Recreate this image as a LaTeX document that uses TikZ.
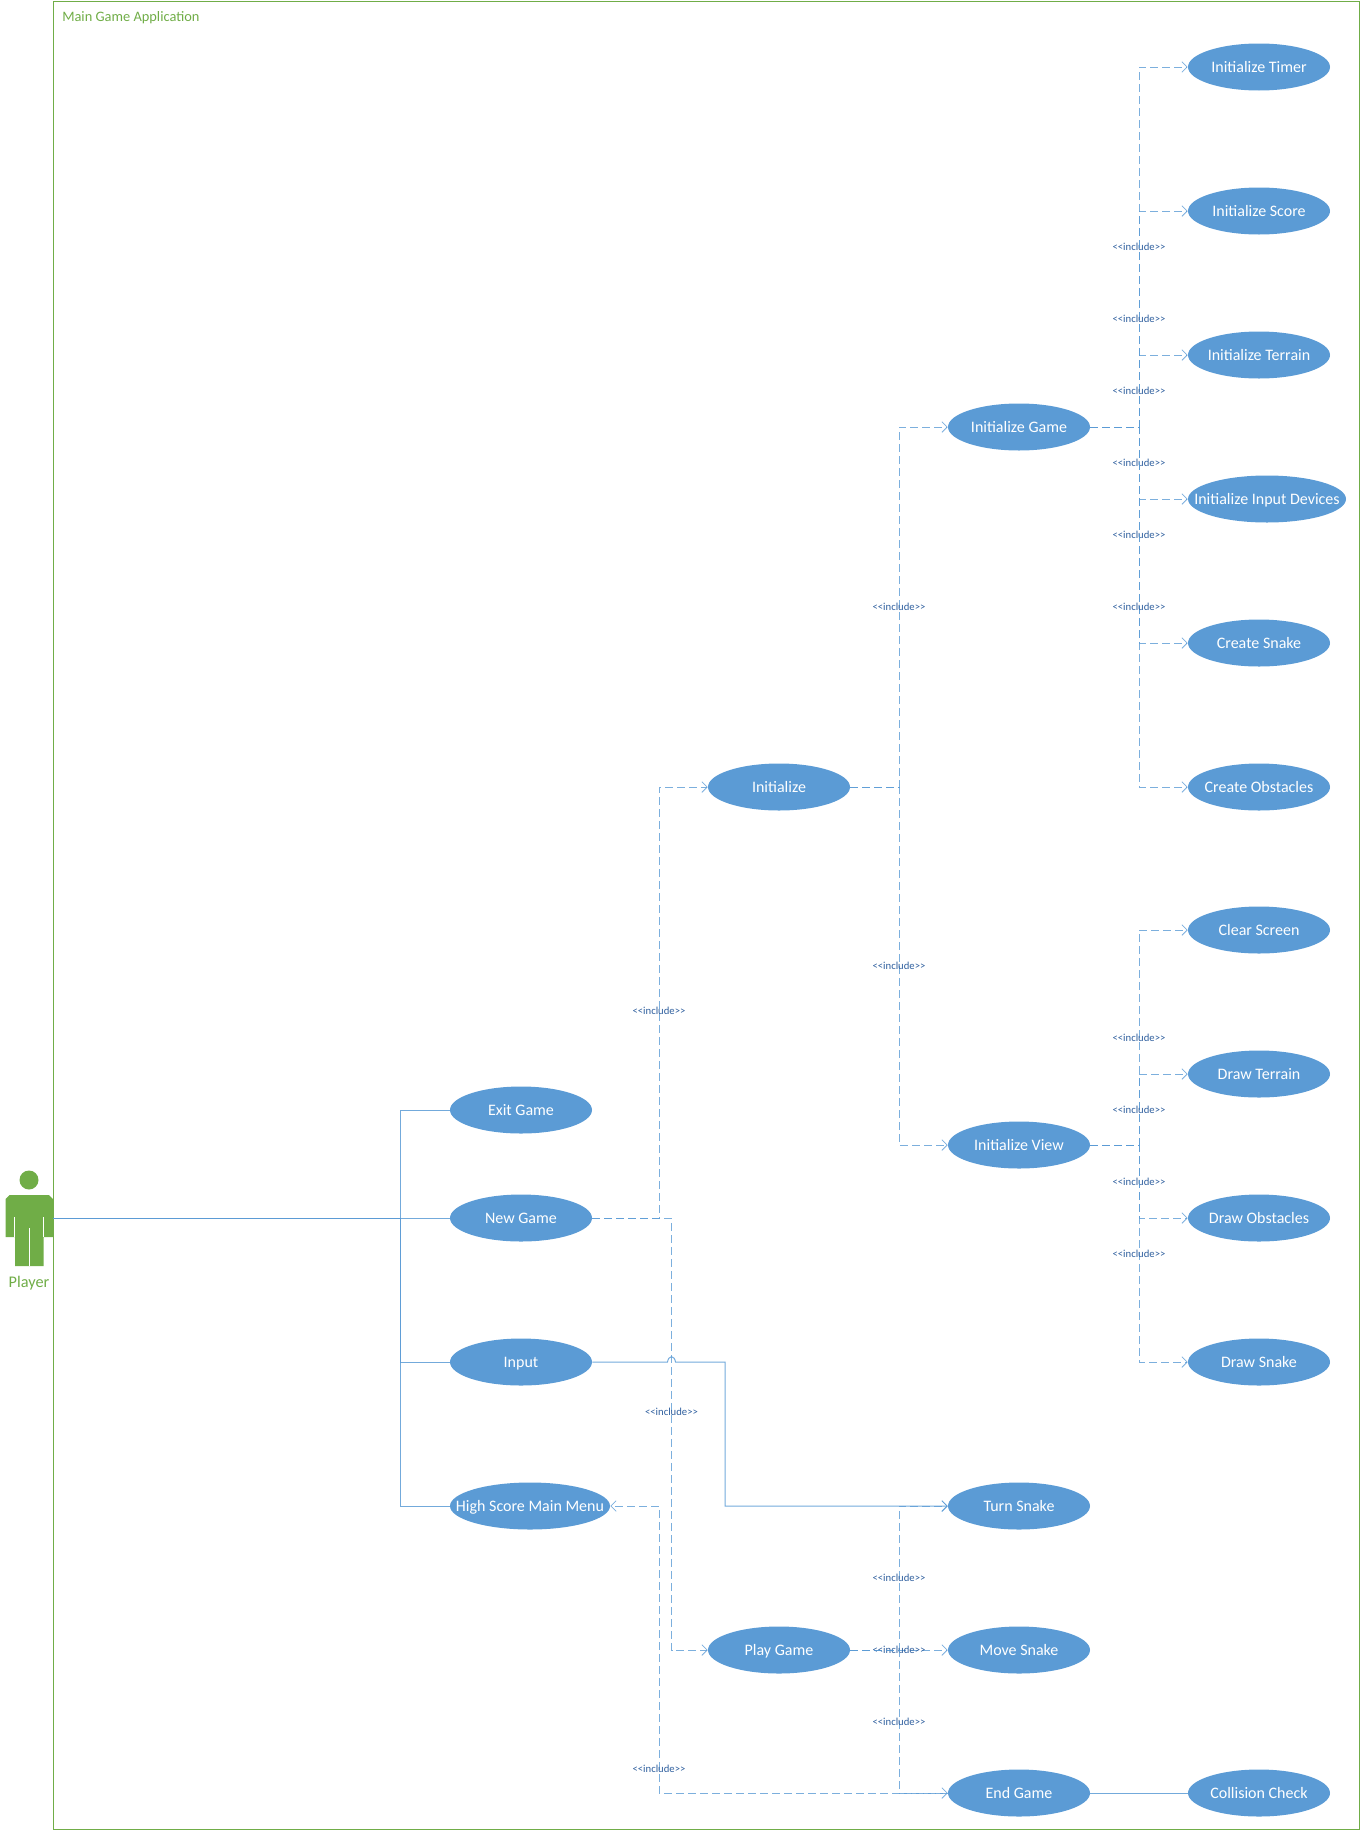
\documentclass[tikz,border=0pt]{standalone}
\usepackage[table]{xcolor}
\usepackage{tikz}
\usepackage{fontspec}
\setmainfont{Carlito}
\usetikzlibrary{arrows.meta,shapes.geometric}
\definecolor{caseblue}{HTML}{5B9BD5}
\definecolor{actorgreen}{HTML}{70AD47}
\definecolor{labelblue}{HTML}{2F5F9E}
\newcommand{\incl}{<{}<include>{}>}
\tikzset{
	usecase/.style={ellipse, fill=caseblue, text=white, font=\fontsize{12}{14}\selectfont, text height=10pt, text depth=2.4pt, minimum width=106.5pt, minimum height=35.25pt, inner xsep=-50pt, inner ysep=0pt},
	solidlink/.style={draw=caseblue, line width=0.75pt, draw opacity=0.85},
	dashlink/.style={draw=caseblue, line width=0.75pt, draw opacity=0.8, dash pattern=on 6pt off 3pt, -{Straight Barb[length=4pt,width=8pt,line width=0.6pt]}},
	inclabel/.style={text=labelblue, font=\fontsize{8}{9}\selectfont, inner sep=0pt},
}
\begin{document}
\begin{tikzpicture}[x=0.75pt, y=-0.75pt]
		\useasboundingbox (0,0) rectangle (1360,1831);
		\draw[draw=actorgreen, line width=0.75pt] (53,1.5) rectangle (1359,1829);
		\node[text=actorgreen, anchor=west, inner sep=0pt, font=\fontsize{10.8}{13}\selectfont] (appname) at (62,17.8) {Main Game Application};
		\fill[actorgreen] (29,1180) circle (9.5);
		\fill[actorgreen] (5.5,1199) -- (9.5,1195) -- (49,1195) -- (53,1199) -- (53,1237) -- (43.5,1237) -- (43.5,1266) -- (15,1266) -- (15,1237) -- (5.5,1237) -- cycle;
		\draw[draw=white, line width=0.6pt] (14.5,1217) -- (14.5,1237);
		\draw[draw=white, line width=0.6pt] (43.5,1217) -- (43.5,1237);
		\draw[draw=white, line width=0.6pt] (29,1228) -- (29,1266);
		\node[text=actorgreen, font=\fontsize{12.2}{14}\selectfont] (playername) at (29,1283) {Player};
		\coordinate (player) at (53,1218);
		\coordinate (playerbus) at (400.5,1218);
		\coordinate (newbusup) at (659,1218);
		\coordinate (newbusdown) at (671.5,1218);
		\coordinate (initbus) at (899,787);
		\coordinate (gamebus) at (1139,427);
		\coordinate (viewbus) at (1139,1145);
		\coordinate (playbus) at (899,1650);
		\coordinate (menubus) at (659,1793);
		\coordinate (hopleft) at (667.5,1362);
		\coordinate (hopright) at (675.5,1362);
		\coordinate (inputbus) at (725,1362);
		\node[usecase] (exitgame) at (521,1110) {Exit Game};
		\node[usecase] (newgame) at (521,1218) {New Game};
		\node[usecase] (input) at (521,1362) {Input};
		\node[usecase, minimum width=120pt] (highscore) at (530,1506) {High Score Main Menu};
		\node[usecase] (initialize) at (779,787) {Initialize};
		\node[usecase] (playgame) at (779,1650) {Play Game};
		\node[usecase] (initgame) at (1019,427) {Initialize Game};
		\node[usecase] (initview) at (1019,1145) {Initialize View};
		\node[usecase] (turnsnake) at (1019,1506) {Turn Snake};
		\node[usecase] (movesnake) at (1019,1650) {Move Snake};
		\node[usecase] (endgame) at (1019,1793) {End Game};
		\node[usecase] (inittimer) at (1259,67) {Initialize Timer};
		\node[usecase] (initscore) at (1259,211) {Initialize Score};
		\node[usecase] (initterrain) at (1259,355) {Initialize Terrain};
		\node[usecase, minimum width=118.5pt] (initdevices) at (1267,499) {Initialize Input Devices};
		\node[usecase] (createsnake) at (1259,643) {Create Snake};
		\node[usecase] (createobstacles) at (1259,787) {Create Obstacles};
		\node[usecase] (clearscreen) at (1259,930) {Clear Screen};
		\node[usecase] (drawterrain) at (1259,1074) {Draw Terrain};
		\node[usecase] (drawobstacles) at (1259,1218) {Draw Obstacles};
		\node[usecase] (drawsnake) at (1259,1362) {Draw Snake};
		\node[usecase] (collision) at (1259,1793) {Collision Check};
		\draw[solidlink] (player) -- (playerbus) |- (exitgame.west);
		\draw[solidlink] (player) -- (newgame.west);
		\draw[solidlink] (player) -- (playerbus) |- (input.west);
		\draw[solidlink] (player) -- (playerbus) |- (highscore.west);
		\draw[solidlink, -{Straight Barb[length=4pt,width=8pt,line width=0.6pt]}] (input.east) -- (hopleft) .. controls +(1,-7) and +(-1,-7) .. (hopright) -- (inputbus) |- (turnsnake.west);
		\draw[solidlink] (endgame.east) -- (collision.west);
		\draw[dashlink] (newgame.east) -- (newbusup) |- node[inclabel, pos=0.24] (lblinit) {\incl} (initialize.west);
		\draw[dashlink] (newgame.east) -- (newbusdown) |- node[inclabel, pos=0.2245] (lblplay) {\incl} (playgame.west);
		\draw[dashlink] (endgame.west) -- (menubus) |- node[inclabel, pos=0.042] (lblmenu) {\incl} (highscore.east);
		\draw[dashlink] (initialize.east) -- (initbus) |- node[inclabel, pos=0.25] (lblgame) {\incl} (initgame.west);
		\draw[dashlink] (initialize.east) -- (initbus) |- node[inclabel, pos=0.25] (lblview) {\incl} (initview.west);
		\draw[dashlink] (initgame.east) -- (gamebus) |- node[inclabel, pos=0.25] (lbltimer) {\incl} (inittimer.west);
		\draw[dashlink] (initgame.east) -- (gamebus) |- node[inclabel, pos=0.25] (lblscore) {\incl} (initscore.west);
		\draw[dashlink] (initgame.east) -- (gamebus) |- node[inclabel, pos=0.25] (lblterrain) {\incl} (initterrain.west);
		\draw[dashlink] (initgame.east) -- (gamebus) |- node[inclabel, pos=0.25] (lbldevices) {\incl} (initdevices.west);
		\draw[dashlink] (initgame.east) -- (gamebus) |- node[inclabel, pos=0.25] (lblsnake) {\incl} (createsnake.west);
		\draw[dashlink] (initgame.east) -- (gamebus) |- node[inclabel, pos=0.25] (lblobstacles) {\incl} (createobstacles.west);
		\draw[dashlink] (initview.east) -- (viewbus) |- node[inclabel, pos=0.25] (lblclear) {\incl} (clearscreen.west);
		\draw[dashlink] (initview.east) -- (viewbus) |- node[inclabel, pos=0.25] (lbldrawterrain) {\incl} (drawterrain.west);
		\draw[dashlink] (initview.east) -- (viewbus) |- node[inclabel, pos=0.25] (lbldrawobst) {\incl} (drawobstacles.west);
		\draw[dashlink] (initview.east) -- (viewbus) |- node[inclabel, pos=0.25] (lbldrawsnake) {\incl} (drawsnake.west);
		\draw[dashlink] (playgame.east) -- (playbus) |- node[inclabel, pos=0.25] (lblturn) {\incl} (turnsnake.west);
		\draw[dashlink] (playgame.east) -- node[inclabel, pos=0.5] (lblmove) {\incl} (movesnake.west);
		\draw[dashlink] (playgame.east) -- (playbus) |- node[inclabel, pos=0.25] (lblend) {\incl} (endgame.west);
	\end{tikzpicture}
\end{document}
